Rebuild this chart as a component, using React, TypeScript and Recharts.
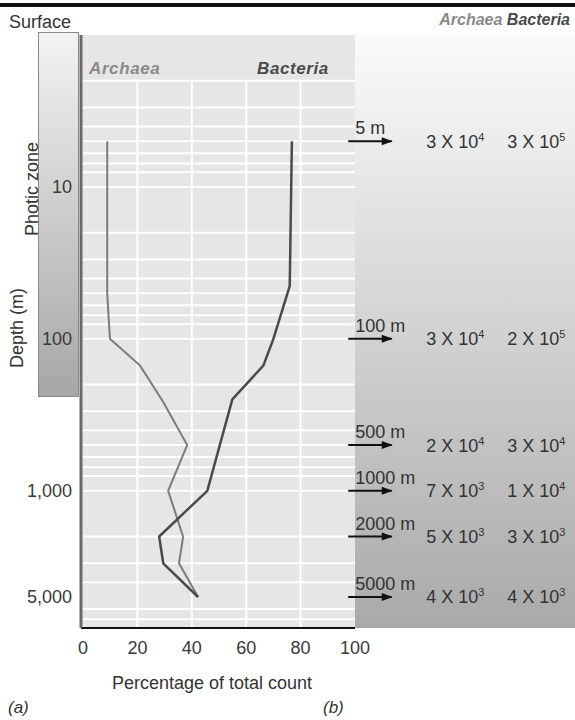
import React from 'react';
import { LineChart, Line, XAxis, YAxis, CartesianGrid, ReferenceLine } from 'recharts';

const FONT = '"Liberation Sans", Arial, Helvetica, sans-serif';

// depth profiles (percent of total count)
const archaeaDepth = [5, 50, 100, 150, 260, 500, 1000, 2000, 3000, 5000];
const archaeaPct = [8.9, 8.9, 9.9, 21, 29.5, 38.3, 31.3, 36.8, 35.3, 42.3];
const bacteriaDepth = [5, 45, 100, 150, 250, 1000, 2000, 3000, 5000];
const bacteriaPct = [76.8, 76, 70, 66.3, 54.9, 45.7, 28, 29.5, 42.3];

const xTicks = [0, 20, 40, 60, 80, 100];
const yTicks = [10, 100, 1000, 5000];
const yTickLabels = ['10', '100', '1,000', '5,000'];
const gridDepths = [2, 3, 4, 5, 6, 7, 8, 9, 10, 20, 30, 40, 50, 60, 70, 80, 90, 100, 200, 300, 400, 500, 600, 700, 800, 900, 1000, 2000, 3000, 4000, 5000, 6000, 7000];
const gridPcts = [20, 40, 60, 80];

// panel (b): sampling depths and cell counts
const siteDepths = [5, 100, 500, 1000, 2000, 5000];
const siteLabels = ['5 m', '100 m', '500 m', '1000 m', '2000 m', '5000 m'];
const archaeaCount = ['3', '3', '2', '7', '5', '4'];
const archaeaExp = ['4', '4', '4', '3', '3', '3'];
const bacteriaCount = ['3', '2', '3', '1', '3', '4'];
const bacteriaExp = ['5', '5', '4', '4', '3', '3'];

const archaeaData = archaeaDepth.map((d, i) => ({ depth: d, pct: archaeaPct[i] }));
const bacteriaData = bacteriaDepth.map((d, i) => ({ depth: d, pct: bacteriaPct[i] }));

const SiteMark = (props: any) => {
  const { viewBox, index } = props;
  if (!viewBox) return null;
  const { x, y, width } = viewBox;
  const tip = x + width;
  return (
    <g fontFamily={FONT} fontSize={18} fill="#333">
      <polygon points={`${tip + 1},${y} ${tip - 10},${y - 4} ${tip - 10},${y + 4}`} fill="#111" />
      <text x={x + 7} y={y - 7}>{siteLabels[index]}</text>
      <text x={x + 78} y={y + 6.5}>
        {archaeaCount[index]} X 10<tspan dy={-7} fontSize={11}>{archaeaExp[index]}</tspan>
      </text>
      <text x={x + 159} y={y + 6.5}>
        {bacteriaCount[index]} X 10<tspan dy={-7} fontSize={11}>{bacteriaExp[index]}</tspan>
      </text>
    </g>
  );
};

export default function App() {
  return (
    <div style={{ position: 'absolute', left: 0, top: 0, width: 575, height: 720, background: '#fff', fontFamily: FONT }}>
      <svg width={575} height={720} style={{ position: 'absolute', left: 0, top: 0 }}>
        <defs>
          <linearGradient id="photic" x1="0" y1="0" x2="0" y2="1">
            <stop offset="0%" stopColor="#f3f3f3" />
            <stop offset="100%" stopColor="#a6a6a6" />
          </linearGradient>
          <linearGradient id="panelB" x1="0" y1="0" x2="0" y2="1">
            <stop offset="0%" stopColor="#fbfbfb" />
            <stop offset="100%" stopColor="#a9a9a9" />
          </linearGradient>
        </defs>
        <rect x={0} y={3} width={575} height={4} fill="#111" />
        <rect x={355} y={33} width={220} height={595} fill="url(#panelB)" />
        <rect x={38.5} y={32.5} width={40} height={364} fill="url(#photic)" stroke="#8a8a8a" />
      </svg>

      <div style={{ position: 'absolute', left: 0, top: 0 }}>
        <LineChart layout="vertical" width={575} height={720} margin={{ top: 35, right: 220, bottom: 62, left: 8 }}>
          <CartesianGrid
            fill="#e6e6e6"
            fillOpacity={1}
            stroke="#ffffff"
            strokeWidth={2}
            vertical={false}
            horizontalValues={gridDepths}
          />
          {gridPcts.map((p) => (
            <ReferenceLine
              key={'v' + p}
              segment={[{ x: p, y: 2 }, { x: p, y: 8000 }]}
              stroke="#ffffff"
              strokeWidth={2}
            />
          ))}
          <XAxis
            type="number"
            domain={[0, 100]}
            ticks={xTicks}
            padding={{ left: 2, right: 0 }}
            height={30}
            tickLine={false}
            tickSize={0}
            tickMargin={13}
            axisLine={{ stroke: '#111', strokeWidth: 2 }}
            tick={{ fill: '#3a3a3a', fontSize: 18, fontFamily: FONT }}
          />
          <YAxis
            type="number"
            dataKey="depth"
            scale="log"
            domain={[1, 8000]}
            allowDataOverflow
            ticks={yTicks}
            tickFormatter={(v: number) => yTickLabels[yTicks.indexOf(v)]}
            width={73}
            tickLine={false}
            tickSize={0}
            tickMargin={9}
            axisLine={{ stroke: '#6a6a6a', strokeWidth: 3 }}
            tick={{ fill: '#3a3a3a', fontSize: 18, fontFamily: FONT }}
          />
          <Line data={archaeaData} dataKey="pct" type="linear" stroke="#7c7c7c" strokeWidth={2} dot={false} isAnimationActive={false} />
          <Line data={bacteriaData} dataKey="pct" type="linear" stroke="#4a4a4a" strokeWidth={2.5} dot={false} isAnimationActive={false} />
          {siteDepths.map((d, i) => (
            <ReferenceLine
              key={'s' + d}
              ifOverflow="visible"
              segment={[{ x: 97.5, y: d }, { x: 113.5, y: d }]}
              stroke="#111"
              strokeWidth={2}
              label={<SiteMark index={i} />}
            />
          ))}
        </LineChart>
      </div>

      <svg width={575} height={720} style={{ position: 'absolute', left: 0, top: 0, pointerEvents: 'none' }} fontFamily={FONT}>
        <text x={9} y={28} fontSize={18} fill="#333">Surface</text>
        <text transform="translate(38,189) rotate(-90)" textAnchor="middle" fontSize={18} fill="#333">Photic zone</text>
        <text transform="translate(23,328) rotate(-90)" textAnchor="middle" fontSize={18} fill="#333">Depth (m)</text>
        <text x={89} y={74} fontSize={17} fontWeight="bold" fontStyle="italic" letterSpacing={0.6} fill="#8a8a8a">Archaea</text>
        <text x={257} y={74} fontSize={17} fontWeight="bold" fontStyle="italic" letterSpacing={0.6} fill="#4a4a4a">Bacteria</text>
        <text x={570} y={25} textAnchor="end" fontSize={16} fontWeight="bold" fontStyle="italic">
          <tspan fill="#8a8a8a">Archaea</tspan>
          <tspan fill="#4a4a4a"> Bacteria</tspan>
        </text>
        <text x={212} y={689} textAnchor="middle" fontSize={18} fill="#333">Percentage of total count</text>
        <text x={8} y={713} fontSize={17} fontStyle="italic" fill="#333">(a)</text>
        <text x={323} y={713} fontSize={17} fontStyle="italic" fill="#333">(b)</text>
      </svg>
    </div>
  );
}
